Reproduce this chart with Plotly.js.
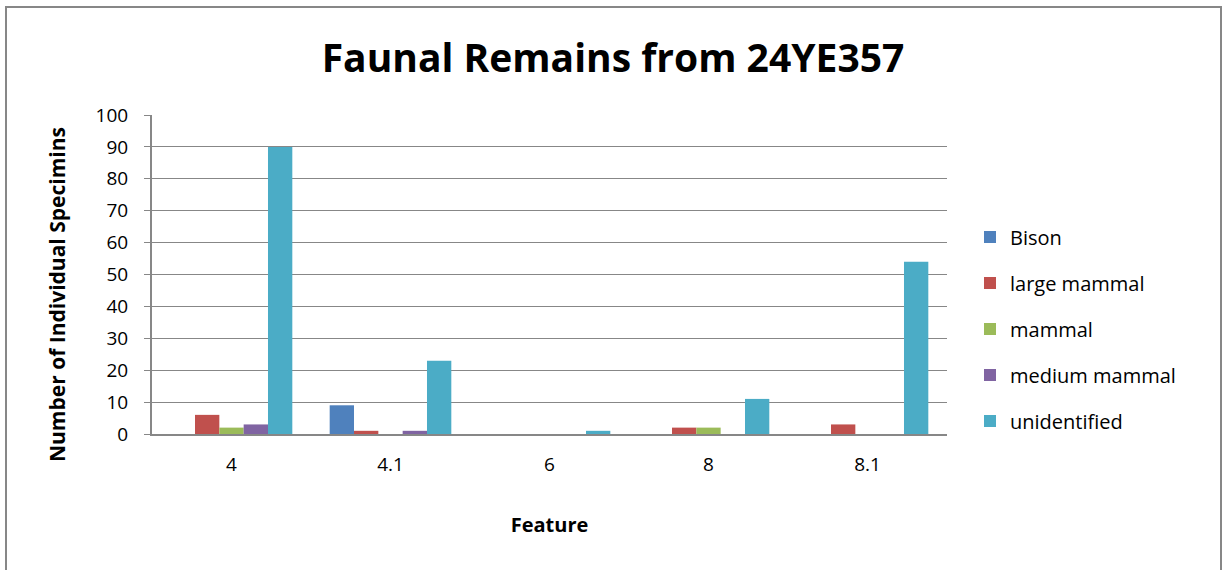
<!DOCTYPE html>
<html>
<head>
<meta charset="utf-8">
<script src="https://cdn.plot.ly/plotly-3.0.1.min.js"></script>
<style>
  html, body { margin: 0; padding: 0; background: #ffffff; }
  #chart { width: 1223px; height: 570px; }
</style>
</head>
<body>
<div id="chart"></div>
<script>
const features = ["4", "4.1", "6", "8", "8.1"];
const seriesNames = ["Bison", "large mammal", "mammal", "medium mammal", "unidentified"];
const bison = [0, 9, 0, 0, 0];
const largeMammal = [6, 1, 0, 2, 3];
const mammal = [2, 0, 0, 2, 0];
const mediumMammal = [3, 1, 0, 0, 0];
const unidentified = [90, 23, 1, 11, 54];
const seriesColors = ["#4F81BD", "#C0504D", "#9BBB59", "#8064A2", "#4BACC6"];
const yTicks = [0, 10, 20, 30, 40, 50, 60, 70, 80, 90, 100];
const yTitleText = "Number of Individual Specimins";

const allValues = [bison, largeMammal, mammal, mediumMammal, unidentified];

const traces = allValues.map((vals, i) => ({
  type: "bar",
  name: seriesNames[i],
  x: features,
  y: vals,
  legendgroup: "g" + i,
  marker: { color: seriesColors[i], line: { width: 0 } },
  hoverinfo: "x+y+name"
}));

const fontFam = "Open Sans, Liberation Sans, sans-serif";

const layout = {
  width: 1223,
  height: 570,
  paper_bgcolor: "#ffffff",
  plot_bgcolor: "#ffffff",
  margin: { l: 152, r: 276, t: 115, b: 136, autoexpand: false },
  barmode: "group",
  bargap: 0.235,
  bargroupgap: 0,
  title: {
    text: "<b>Faunal Remains from 24YE357</b>",
    font: { family: fontFam, size: 39, color: "#000000" },
    x: 613 / 1223,
    xref: "container",
    xanchor: "center",
    y: 1 - 58 / 570,
    yref: "container",
    yanchor: "middle"
  },
  font: { family: fontFam, color: "#000000" },
  xaxis: {
    type: "category",
    showline: true,
    linecolor: "#878787",
    linewidth: 2,
    ticks: "",
    showgrid: false,
    zeroline: false,
    tickfont: { family: fontFam, size: 19, color: "#000000" },
    ticklabelstandoff: 12,
    title: {
      text: "<b>Feature</b>",
      font: { family: fontFam, size: 20, color: "#000000" },
      standoff: 42
    },
    automargin: false
  },
  yaxis: {
    range: [0, 100],
    tickvals: yTicks,
    ticktext: yTicks.map(String),
    showline: true,
    linecolor: "#878787",
    linewidth: 2,
    ticks: "outside",
    ticklen: 6,
    tickcolor: "#878787",
    tickwidth: 1,
    showgrid: true,
    gridcolor: "#878787",
    gridwidth: 1,
    zeroline: false,
    tickfont: { family: fontFam, size: 19, color: "#000000" },
    ticklabelstandoff: 12,
    automargin: false
  },
  annotations: [
    {
      text: "<b>" + yTitleText + "</b>",
      xref: "paper",
      yref: "paper",
      x: (57 - 152) / 795,
      y: (434 - 295) / 319,
      xanchor: "center",
      yanchor: "middle",
      textangle: -90,
      showarrow: false,
      font: { family: fontFam, size: 21, color: "#000000" }
    }
  ],
  legend: {
    x: (970 - 152) / 795,
    xanchor: "left",
    y: 0.5 - (329 - 274.5) / 319,
    yanchor: "middle",
    font: { family: fontFam, size: 20, color: "#000000" },
    traceorder: "grouped",
    tracegroupgap: 17,
    bgcolor: "rgba(0,0,0,0)",
    borderwidth: 0
  },
  showlegend: true,
  shapes: [
    {
      type: "rect",
      xref: "paper",
      yref: "paper",
      x0: (6 - 152) / 795,
      x1: (1221 - 152) / 795,
      y0: (434 - 590) / 319,
      y1: (434 - 7) / 319,
      line: { color: "#878787", width: 2 },
      fillcolor: "rgba(0,0,0,0)",
      layer: "below"
    }
  ]
};

Plotly.newPlot("chart", traces, layout, { displayModeBar: false, staticPlot: true });
</script>
</body>
</html>
